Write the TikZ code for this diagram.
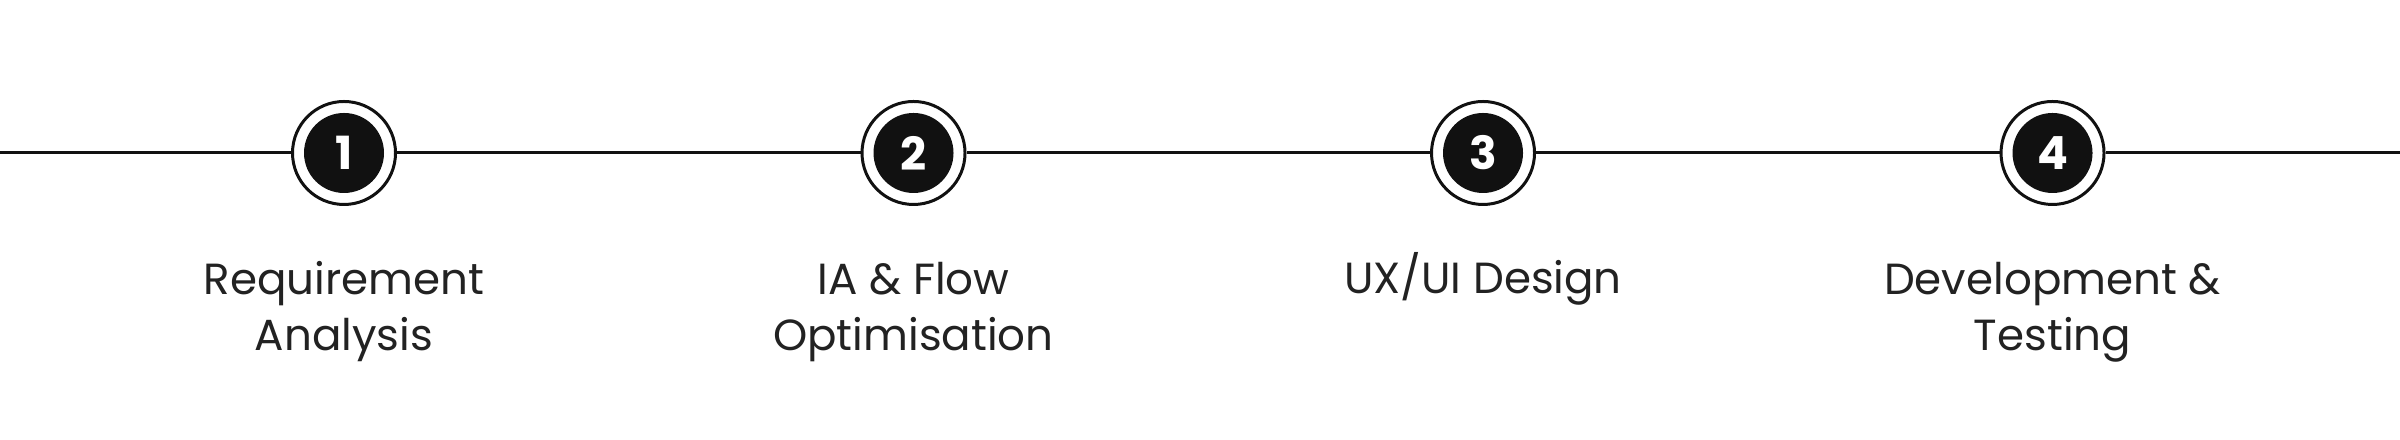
\documentclass[tikz,border=0pt]{standalone}
\usepackage{fontspec}
\setmainfont{Poppins}
\usepackage{tikz}
\usetikzlibrary{positioning}
\definecolor{inkblack}{HTML}{111111}
\definecolor{labelgrey}{HTML}{222222}
\tikzstyle{ringNode} = [
                circle,
                minimum size = 1.03cm,
                draw=inkblack,
                line width=0.85pt,
                fill=white,
                inner sep=0pt
            ]
\tikzstyle{discNode} = [circle, minimum size=0.8cm, fill=inkblack, text=white, inner sep=0pt, font=\fontsize{13}{13}\selectfont\bfseries]
\tikzstyle{labelNode} = [align=center, text=labelgrey, inner sep=0pt, anchor=base, font=\fontsize{12.4}{16.2}\selectfont]
\tikzstyle{track} = [line width=0.85pt, draw=inkblack]

\begin{document}
\begin{tikzpicture}[node distance = 5.695cm]
    \useasboundingbox (0,0) rectangle (24,4.4);
    \coordinate (start) at (0,2.87);
    \coordinate (end) at (24,2.87);
    \node (step1) [ringNode] at (3.44,2.87) {};
    \node (step2) [ringNode, right of=step1] {};
    \node (step3) [ringNode, right of=step2] {};
    \node (step4) [ringNode, right of=step3] {};
    % timeline
    \draw [track] (start) -- (step1);
    \draw [track] (step1) -- (step2);
    \draw [track] (step2) -- (step3);
    \draw [track] (step3) -- (step4);
    \draw [track] (step4) -- (end);
    % numbers
    \node (num1) [discNode] at (step1) {1};
    \node (num2) [discNode] at (step2) {2};
    \node (num3) [discNode] at (step3) {3};
    \node (num4) [discNode] at (step4) {4};
    % labels (base = last line)
    \node (label1) [below=1.45cm of step1, labelNode] {Requirement\\Analysis};
    \node (label2) [below=1.45cm of step2, labelNode] {IA \& Flow\\Optimisation};
    \node (label3) [below=0.88cm of step3, labelNode] {UX/UI Design};
    \node (label4) [below=1.45cm of step4, labelNode] {Development \&\\Testing};
\end{tikzpicture}
\end{document}
